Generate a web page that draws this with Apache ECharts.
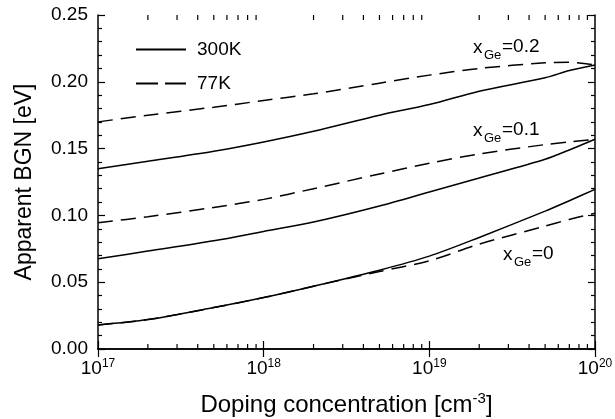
<!DOCTYPE html>
<html>
<head>
<meta charset="utf-8">
<script src="https://cdn.jsdelivr.net/npm/echarts@6/dist/echarts.min.js"></script>
<style>
  html, body { margin: 0; padding: 0; background: #fff; }
  #chart { width: 615px; height: 419px; }
</style>
</head>
<body>
<div id="chart"></div>
<script>
// doping concentration (cm^-3)
const doping = [1e17, 2e17, 5e17, 1e18, 2e18, 5e18, 1e19, 2e19, 5e19, 7e19, 1e20];
// apparent BGN (eV)
const bgn300_02 = [0.135, 0.1405, 0.148, 0.155, 0.163, 0.175, 0.183, 0.193, 0.203, 0.2085, 0.2126];
const bgn77_02 = [0.170, 0.175, 0.181, 0.186, 0.191, 0.199, 0.205, 0.210, 0.2142, 0.2146, 0.2126];
const bgn300_01 = [0.0675, 0.0733, 0.081, 0.088, 0.095, 0.107, 0.1175, 0.128, 0.142, 0.149, 0.157];
const bgn77_01 = [0.0945, 0.099, 0.106, 0.112, 0.120, 0.131, 0.139, 0.146, 0.153, 0.155, 0.157];
const bgn300_00 = [0.018, 0.022, 0.031, 0.0385, 0.047, 0.059, 0.0695, 0.0835, 0.1032, 0.111, 0.1195];
const bgn77_00 = [0.018, 0.022, 0.031, 0.0385, 0.047, 0.058, 0.066, 0.0785, 0.092, 0.097, 0.1016];
// log minor ticks
const minorTicks = [2e17, 3e17, 4e17, 5e17, 6e17, 7e17, 8e17, 9e17,
  2e18, 3e18, 4e18, 5e18, 6e18, 7e18, 8e18, 9e18,
  2e19, 3e19, 4e19, 5e19, 6e19, 7e19, 8e19, 9e19];

const FONT = "Liberation Sans, Arial, sans-serif";
const dash = [15, 8];

function pairs(ys) {
  return doping.map((x, i) => [x, ys[i]]);
}

function curve(name, ys, dashed) {
  return {
    name: name,
    type: "line",
    data: pairs(ys),
    symbol: "none",
    smooth: 0.3,
    color: "#000",
    itemStyle: { color: "#000" },
    lineStyle: { color: "#000", width: 1.5, type: dashed ? dash : "solid" },
    z: 3
  };
}

const tickStyle = { color: "#000", width: 1.2 };

const chart = echarts.init(document.getElementById("chart"));

const option = {
  animation: false,
  backgroundColor: "#fff",
  grid: { left: 98, right: 20, top: 15, bottom: 70, outerBoundsMode: "none" },
  legend: {
    orient: "vertical",
    left: 130,
    top: 35,
    itemWidth: 50,
    itemHeight: 20,
    itemGap: 15,
    itemStyle: { opacity: 0 },
    textStyle: { fontFamily: FONT, fontSize: 19, color: "#000", padding: [0, 0, 0, 6] },
    data: [
      { name: "300K" },
      { name: "77K", lineStyle: { type: [22, 7] } }
    ]
  },
  xAxis: [
    {
      type: "log",
      logBase: 10,
      min: 1e17,
      max: 1e20,
      name: "Doping concentration [cm{sup|-3}]",
      nameLocation: "middle",
      nameGap: 42,
      nameTextStyle: {
        fontFamily: FONT, fontSize: 24, color: "#000",
        rich: { sup: { fontSize: 15, fontFamily: FONT, padding: [0, 0, 14, 0] } }
      },
      axisLine: { show: true, lineStyle: { color: "#000", width: 1.5 } },
      axisTick: { show: true, inside: true, length: 8, lineStyle: tickStyle },
      splitLine: { show: false },
      axisLabel: {
        margin: 9,
        fontFamily: FONT, fontSize: 19, color: "#000",
        formatter: v => "10{sup|" + Math.round(Math.log10(v)) + "}",
        rich: { sup: { fontSize: 12, fontFamily: FONT, padding: [0, 0, 10, 0] } }
      }
    },
    {
      type: "log",
      logBase: 10,
      min: 1e17,
      max: 1e20,
      position: "top",
      axisLine: { show: true, lineStyle: { color: "#000", width: 1.5 } },
      axisTick: { show: true, inside: true, length: 8, lineStyle: tickStyle },
      axisLabel: { show: false },
      splitLine: { show: false }
    }
  ],
  yAxis: [
    {
      type: "value",
      min: 0,
      max: 0.25,
      interval: 0.05,
      name: "Apparent BGN [eV]",
      nameLocation: "middle",
      nameGap: 62,
      nameTextStyle: { fontFamily: FONT, fontSize: 23, color: "#000" },
      axisLine: { show: true, lineStyle: { color: "#000", width: 1.5 } },
      axisTick: { show: true, inside: true, length: 7, lineStyle: tickStyle },
      minorTick: { show: true, splitNumber: 5, length: 4, lineStyle: tickStyle },
      splitLine: { show: false },
      axisLabel: {
        margin: 10,
        fontFamily: FONT, fontSize: 19, color: "#000",
        formatter: v => v.toFixed(2)
      }
    },
    {
      type: "value",
      min: 0,
      max: 0.25,
      interval: 0.05,
      position: "right",
      axisLine: { show: true, lineStyle: { color: "#000", width: 1.5 } },
      axisTick: { show: true, inside: true, length: 7, lineStyle: tickStyle },
      minorTick: { show: true, splitNumber: 5, length: 4, lineStyle: tickStyle },
      splitLine: { show: false },
      axisLabel: { show: false }
    }
  ],
  series: [
    curve("300K", bgn300_02, false),
    curve("77K", bgn77_02, true),
    curve("300K", bgn300_01, false),
    curve("77K", bgn77_01, true),
    curve("300K", bgn300_00, false),
    curve("77K", bgn77_00, true),
    {
      // minor ticks of the log axis, bottom and top
      name: "minor",
      type: "custom",
      silent: true,
      clip: false,
      data: minorTicks.map(v => [v, 0]),
      renderItem: (params, api) => {
        const x = api.coord([api.value(0), 0])[0];
        const cs = params.coordSys;
        const st = { stroke: "#000", lineWidth: 1.2 };
        return {
          type: "group",
          children: [
            { type: "line", shape: { x1: x, y1: cs.y + cs.height, x2: x, y2: cs.y + cs.height - 5 }, style: st },
            { type: "line", shape: { x1: x, y1: cs.y, x2: x, y2: cs.y + 5 }, style: st }
          ]
        };
      }
    }
  ],
  graphic: [
    { type: "text", left: 473, top: 38, style: { text: "x", font: "19px " + FONT, fill: "#000" } },
    { type: "text", left: 484, top: 49, style: { text: "Ge", font: "13px " + FONT, fill: "#000" } },
    { type: "text", left: 502, top: 37, style: { text: "=0.2", font: "19px " + FONT, fill: "#000" } },

    { type: "text", left: 473, top: 121, style: { text: "x", font: "19px " + FONT, fill: "#000" } },
    { type: "text", left: 484, top: 132, style: { text: "Ge", font: "13px " + FONT, fill: "#000" } },
    { type: "text", left: 502, top: 120, style: { text: "=0.1", font: "19px " + FONT, fill: "#000" } },

    { type: "text", left: 503, top: 245, style: { text: "x", font: "19px " + FONT, fill: "#000" } },
    { type: "text", left: 514, top: 256, style: { text: "Ge", font: "13px " + FONT, fill: "#000" } },
    { type: "text", left: 532, top: 244, style: { text: "=0", font: "19px " + FONT, fill: "#000" } }
  ]
};

chart.setOption(option);
window.addEventListener("resize", () => {
  chart.resize();
});
</script>
</body>
</html>
